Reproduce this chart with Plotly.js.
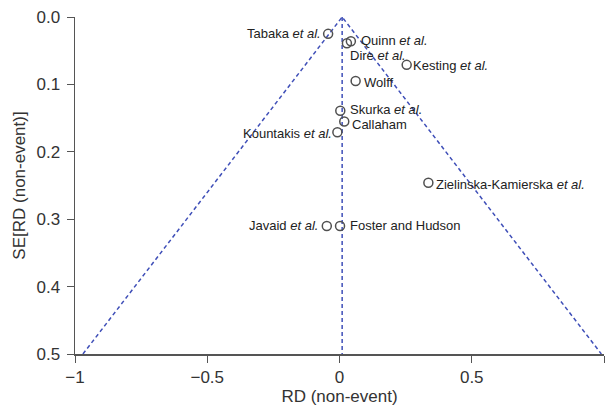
<!DOCTYPE html>
<html><head><meta charset="utf-8">
<script src="https://cdn.plot.ly/plotly-3.0.1.min.js"></script>
<style>html,body{margin:0;padding:0;background:#fff}#chart{width:607px;height:415px}</style>
</head><body><div id="chart"></div>
<script>
// Data
const studies = ["Tabaka", "Quinn", "Dire", "Kesting", "Wolff", "Skurka", "Callaham", "Kountakis", "Zielinska-Kamierska", "Javaid", "Foster and Hudson"];
const etAl = [true, true, true, true, false, true, false, true, true, true, false];
const rd = [-0.043, 0.043, 0.028, 0.254, 0.061, 0.003, 0.018, -0.008, 0.336, -0.048, 0.002];
const se = [0.025, 0.036, 0.039, 0.071, 0.095, 0.139, 0.155, 0.171, 0.246, 0.310, 0.310];
const pooled = 0.01;
const seMax = 0.5;
const xTicks = [-1, -0.5, 0, 0.5, 1];
const xTickText = ["\u22121", "\u22120.5", "0", "0.5", "1"];
const yTicks = [0, 0.1, 0.2, 0.3, 0.4, 0.5];
const yTickText = ["0.0", "0.1", "0.2", "0.3", "0.4", "0.5"];

// Label placement (style only)
const labelStyle = {
  "Tabaka": {side: "left", dx: -5, dy: 0},
  "Quinn": {side: "right", dx: 8, dy: 1},
  "Dire": {side: "right", dx: 1, dy: -12},
  "Kesting": {side: "right", dx: 4, dy: -1},
  "Wolff": {side: "right", dx: 6, dy: -1},
  "Skurka": {side: "right", dx: 8, dy: 1},
  "Callaham": {side: "right", dx: 6, dy: -3},
  "Kountakis": {side: "left", dx: -3, dy: -1},
  "Zielinska-Kamierska": {side: "right", dx: 6, dy: -2},
  "Javaid": {side: "left", dx: -7, dy: 0},
  "Foster and Hudson": {side: "right", dx: 8, dy: 0}
};

const lineColor = "#3f4fb8";
const dashStyle = {color: lineColor, width: 1.5, dash: "4px,3px"};
const traces = [
  {x: [pooled - 1.96 * seMax, pooled, pooled + 1.96 * seMax], y: [seMax, 0, seMax], mode: "lines",
   line: dashStyle, hoverinfo: "skip"},
  {x: [pooled, pooled], y: [0, seMax], mode: "lines",
   line: dashStyle, hoverinfo: "skip"},
  {x: rd, y: se, mode: "markers", type: "scatter",
   marker: {symbol: "circle-open", size: 9, color: "#505050", line: {width: 1.5, color: "#505050"}}}
];

const font = "Liberation Sans, Arial, Helvetica, sans-serif";
const annotations = studies.map((s, i) => {
  const st = labelStyle[s];
  const txt = etAl[i] ? s + " <i>et al.</i>" : s;
  return {x: rd[i], y: se[i], xref: "x", yref: "y", text: txt, showarrow: false,
    xanchor: st.side === "left" ? "right" : "left", yanchor: "middle",
    xshift: st.dx, yshift: st.dy, font: {family: font, size: 13, color: "#222"}};
});

const layout = {
  width: 607, height: 415,
  margin: {l: 75, r: 3, t: 17, b: 61},
  paper_bgcolor: "#fff", plot_bgcolor: "#fff",
  showlegend: false,
  font: {family: font, color: "#333"},
  xaxis: {range: [-1, 1], tickvals: xTicks, ticktext: xTickText, showgrid: false, zeroline: false,
    showline: true, linecolor: "#555", linewidth: 1.5, ticks: "outside", ticklen: 7, tickcolor: "#555",
    tickfont: {size: 17, color: "#333"},
    title: {text: "RD (non-event)", font: {size: 17, color: "#333"}, standoff: 4}},
  yaxis: {range: [0.5, 0], tickvals: yTicks, ticktext: yTickText, showgrid: false, zeroline: false,
    showline: true, linecolor: "#555", linewidth: 1.5, ticks: "outside", ticklen: 7, tickcolor: "#555",
    ticklabelstandoff: 3,
    tickfont: {size: 17, color: "#333"},
    title: {text: "SE[RD (non-event)]", font: {size: 17, color: "#333"}, standoff: 6}},
  annotations: annotations
};

Plotly.newPlot("chart", traces, layout, {staticPlot: true, displayModeBar: false});
</script></body></html>
